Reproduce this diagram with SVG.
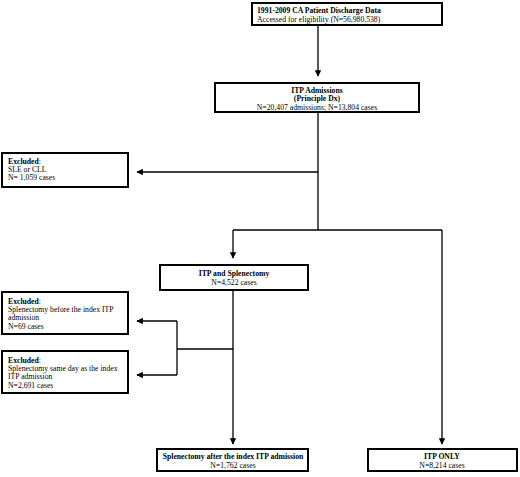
<svg xmlns="http://www.w3.org/2000/svg" width="520" height="477" viewBox="0 0 520 477">
<style>
.box{fill:#fff;stroke:#000;stroke-width:2}
.t{font-family:"Liberation Serif",serif;font-size:7.7px;fill:#000}
.b{font-weight:bold}
.c{text-anchor:middle}
.ln{fill:none;stroke:#000;stroke-width:1.3}
</style>
<defs>
<marker id="ah" viewBox="0 0 10 10" refX="9" refY="5" markerWidth="5" markerHeight="5" orient="auto"><path d="M0,0 L10,5 L0,10 z" fill="#000"/></marker>
</defs>
<rect width="520" height="477" fill="#fff"/>
<g id="connectors">
<path class="ln" d="M318,25 V76" marker-end="url(#ah)"/>
<path class="ln" d="M318,112 V230"/>
<path class="ln" d="M318,172 H137" marker-end="url(#ah)"/>
<path class="ln" d="M233,230 H442"/>
<path class="ln" d="M233,230 V258" marker-end="url(#ah)"/>
<path class="ln" d="M442,230 V444" marker-end="url(#ah)"/>
<path class="ln" d="M233,290 V444" marker-end="url(#ah)"/>
<path class="ln" d="M233,349 H177"/>
<path class="ln" d="M177,321 V375"/>
<path class="ln" d="M177,321 H137" marker-end="url(#ah)"/>
<path class="ln" d="M177,375 H137" marker-end="url(#ah)"/>
</g>
<g id="n1">
<rect class="box" x="252" y="3" width="190" height="22"/>
<text class="t b" x="257" y="13">1991-2009 CA Patient Discharge Data</text>
<text class="t" x="257" y="21.5">Accessed for eligibility (N=56,980,538)</text>
</g>
<g id="n2">
<rect class="box" x="215" y="83" width="204" height="29"/>
<text class="t b c" x="317" y="93">ITP Admissions</text>
<text class="t b c" x="317" y="101">(Principle Dx)</text>
<text class="t c" x="317" y="109.5">N=20,407 admissions; N=13,804 cases</text>
</g>
<g id="n3">
<rect class="box" x="2" y="153" width="126" height="34"/>
<text class="t" x="8" y="163.5"><tspan class="b">Excluded</tspan>:</text>
<text class="t" x="8" y="171.5">SLE or CLL</text>
<text class="t" x="8" y="179.5">N= 1,059 cases</text>
</g>
<g id="n4">
<rect class="box" x="160" y="265" width="148" height="25"/>
<text class="t b c" x="234" y="275.5">ITP and Splenectomy</text>
<text class="t c" x="234" y="284.5">N=4,522  cases</text>
</g>
<g id="n5">
<rect class="box" x="2" y="292" width="126" height="42"/>
<text class="t" x="8" y="303.5"><tspan class="b">Excluded</tspan>:</text>
<text class="t" x="8" y="311.5">Splenectomy before the index ITP</text>
<text class="t" x="8" y="319.5">admission</text>
<text class="t" x="8" y="329">N=69 cases</text>
</g>
<g id="n6">
<rect class="box" x="2" y="351" width="126" height="42"/>
<text class="t" x="8" y="362.5"><tspan class="b">Excluded</tspan>:</text>
<text class="t" x="8" y="370.5">Splenectomy same day as the index</text>
<text class="t" x="8" y="378.5">ITP admission</text>
<text class="t" x="8" y="387.5">N=2,691 cases</text>
</g>
<g id="n7">
<rect class="box" x="157" y="449" width="151" height="22"/>
<text class="t b c" x="233" y="458.5">Splenectomy after the index ITP admission</text>
<text class="t c" x="233" y="467.5">N=1,762 cases</text>
</g>
<g id="n8">
<rect class="box" x="368" y="449" width="149" height="22"/>
<text class="t b c" x="442" y="458.5">ITP ONLY</text>
<text class="t c" x="442" y="467.5">N=8,214 cases</text>
</g>
</svg>
